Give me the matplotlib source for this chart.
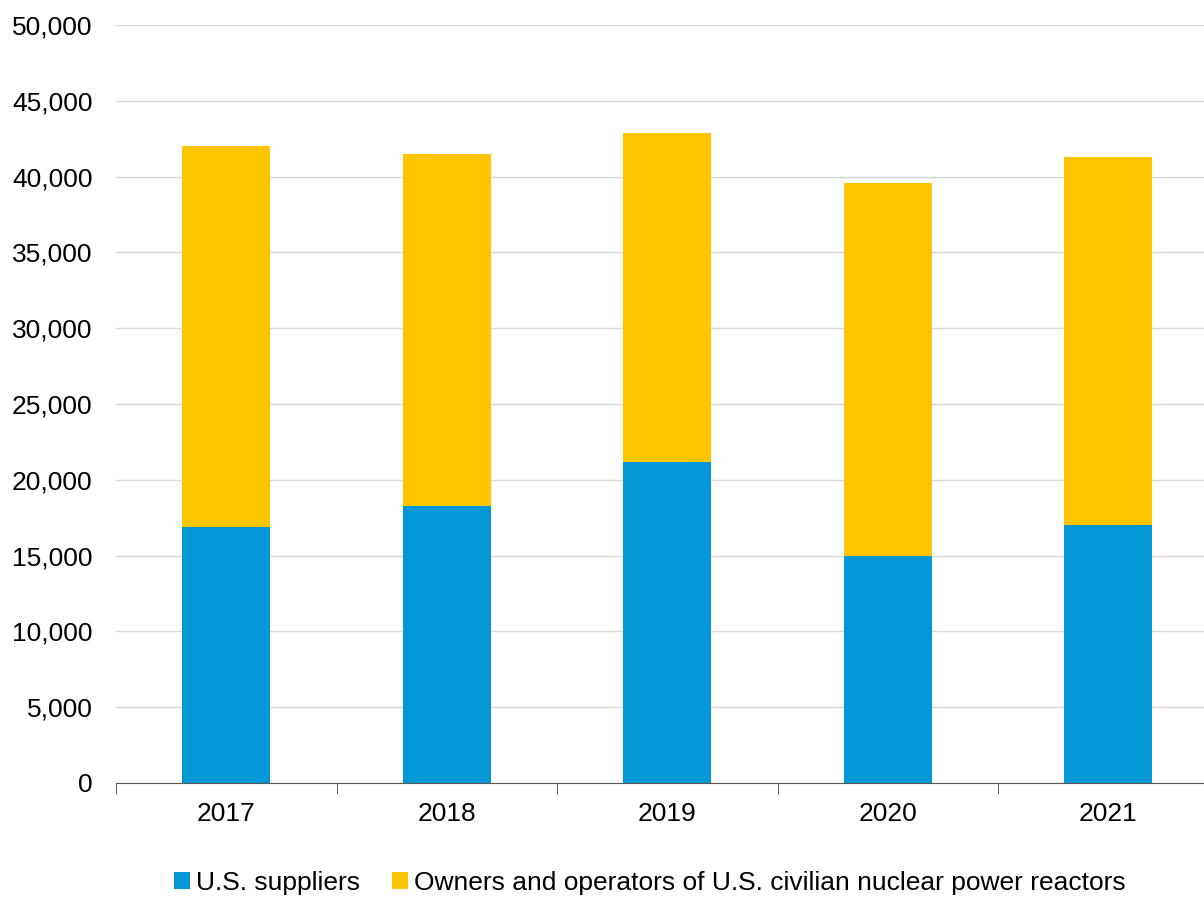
import numpy as np
import matplotlib.pyplot as plt
from matplotlib.ticker import FuncFormatter

plt.rcParams['font.family'] = ['Liberation Sans', 'DejaVu Sans']

years = ['2017', '2018', '2019', '2020', '2021']
suppliers = [16900, 18300, 21200, 14950, 17000]
owners_total = [42050, 41500, 42900, 39550, 41300]
owners = [t - s for t, s in zip(owners_total, suppliers)]

blue = '#0397d6'
yellow = '#ffc600'

fig = plt.figure(figsize=(12.04, 8.99), dpi=100)
ax = fig.add_axes([116 / 1204, (899 - 783) / 899, 1102.5 / 1204, 758 / 899])

x = np.arange(len(years))
ax.bar(x, suppliers, width=0.4, color=blue, label='U.S. suppliers', zorder=3)
ax.bar(x, owners, width=0.4, bottom=suppliers, color=yellow,
       label='Owners and operators of U.S. civilian nuclear power reactors', zorder=3)

ax.set_xlim(-0.5, len(years) - 0.5)
ax.set_ylim(0, 50000)
ax.set_yticks(np.arange(0, 50001, 5000))
ax.yaxis.set_major_formatter(FuncFormatter(lambda v, p: f'{int(v):,}'))
ax.grid(axis='y', color='#d9d9d9', linewidth=1, zorder=0)
ax.tick_params(axis='y', length=0, labelsize=19, pad=17)

# category labels centred, tick marks on the boundaries
ax.set_xticks(x)
ax.set_xticklabels(years, fontsize=19)
ax.tick_params(axis='x', which='major', length=0, pad=14)
ax.set_xticks(np.arange(-0.5, len(years), 1), minor=True)
ax.tick_params(axis='x', which='minor', length=8, color='#404040', direction='out')

for s in ['top', 'right', 'left']:
    ax.spines[s].set_visible(False)
ax.spines['bottom'].set_color('#595959')
ax.spines['bottom'].set_zorder(4)

fig.legend(loc='center', bbox_to_anchor=(650 / 1204, 1 - 883 / 899), ncol=2,
           frameon=False, fontsize=19, handlelength=0.6, handleheight=0.6,
           handletextpad=0.25, columnspacing=1.2)

fig.savefig('out.png', dpi=100)
